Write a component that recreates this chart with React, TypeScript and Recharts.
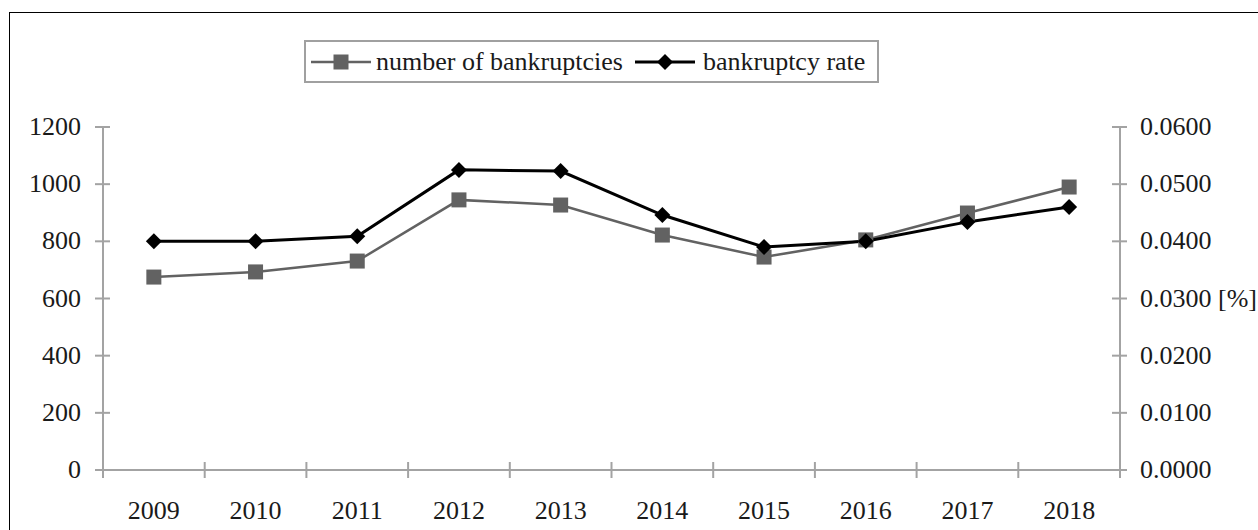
import { LineChart, Line, XAxis, YAxis } from "recharts";

const years = ["2009", "2010", "2011", "2012", "2013", "2014", "2015", "2016", "2017", "2018"];
const bankruptcies = [675, 693, 731, 945, 927, 822, 745, 805, 899, 990];
const bankruptcyRate = [0.04, 0.04, 0.0409, 0.0525, 0.0523, 0.0446, 0.039, 0.04, 0.0434, 0.046];
const leftTicks = [0, 200, 400, 600, 800, 1000, 1200];
const rightTicks = [0, 0.01, 0.02, 0.03, 0.04, 0.05, 0.06];
const seriesNames = ["number of bankruptcies", "bankruptcy rate"];

const data = years.map((year, i) => ({
  year,
  count: bankruptcies[i],
  rate: bankruptcyRate[i],
}));

const FONT = '"Liberation Serif", "Times New Roman", serif';
const AXIS = "#a3a3a3";
const GRAY = "#626262";
const BLACK = "#000000";
const TEXT = "#1a1a1a";

const W = 1248;
const H = 517;
const LEFT_W = 93;
const RIGHT_W = 138;
const BAND = (W - LEFT_W - RIGHT_W) / years.length;

const LeftTick = (props: any) => {
  const { x, y, payload } = props;
  return (
    <g>
      <line x1={x - 8} x2={x + 7} y1={y} y2={y} stroke={AXIS} strokeWidth={2} />
      <text x={x - 22} y={y + 8} textAnchor="end" fontFamily={FONT} fontSize={26} fill={TEXT}>
        {payload.value}
      </text>
    </g>
  );
};

const RightTick = (props: any) => {
  const { x, y, payload } = props;
  const label = payload.value.toFixed(4) + (payload.value === 0.03 ? " [%]" : "");
  return (
    <g>
      <line x1={x - 8} x2={x + 7} y1={y} y2={y} stroke={AXIS} strokeWidth={2} />
      <text x={x + 20} y={y + 8} textAnchor="start" fontFamily={FONT} fontSize={26} fill={TEXT}>
        {label}
      </text>
    </g>
  );
};

const BottomTick = (props: any) => {
  const { x, y, payload, index } = props;
  return (
    <g>
      {index === 0 && (
        <line x1={x - BAND / 2} x2={x - BAND / 2} y1={y} y2={y + 8} stroke={AXIS} strokeWidth={2} />
      )}
      <line x1={x + BAND / 2} x2={x + BAND / 2} y1={y - 8} y2={y + 8} stroke={AXIS} strokeWidth={2} />
      <text x={x} y={y + 49} textAnchor="middle" fontFamily={FONT} fontSize={26} fill={TEXT}>
        {payload.value}
      </text>
    </g>
  );
};

const SquareDot = (props: any) => {
  const { cx, cy, index } = props;
  return <rect key={`sq-${index}`} x={cx - 7.5} y={cy - 7.5} width={15} height={15} fill={GRAY} />;
};

const DiamondDot = (props: any) => {
  const { cx, cy, index } = props;
  return (
    <path
      key={`dm-${index}`}
      d={`M${cx},${cy - 8} L${cx + 8},${cy} L${cx},${cy + 8} L${cx - 8},${cy} Z`}
      fill={BLACK}
    />
  );
};

const LegendIcon = ({ color, shape }: { color: string; shape: "square" | "diamond" }) => (
  <svg width={60} height={20} style={{ display: "block" }}>
    <line x1={0} x2={60} y1={10} y2={10} stroke={color} strokeWidth={shape === "square" ? 2.5 : 3} />
    {shape === "square" ? (
      <rect x={22.5} y={2.5} width={15} height={15} fill={color} />
    ) : (
      <path d="M30,2 L38,10 L30,18 L22,10 Z" fill={color} />
    )}
  </svg>
);

export default function App() {
  return (
    <div
      style={{
        position: "absolute",
        left: 9,
        top: 12,
        width: 1249,
        height: 518,
        borderLeft: "1px solid #000",
        borderTop: "1px solid #000",
        background: "#fff",
      }}
    >
      <div style={{ position: "relative", width: W, height: H }}>
        <div
          style={{
            position: "absolute",
            left: 294,
            top: 27,
            width: 571,
            height: 39,
            border: "2px solid #a0a0a0",
            display: "flex",
            alignItems: "center",
            fontFamily: FONT,
            fontSize: 26,
            color: TEXT,
            whiteSpace: "nowrap",
          }}
        >
          <div style={{ marginLeft: 5 }}>
            <LegendIcon color={GRAY} shape="square" />
          </div>
          <span style={{ marginLeft: 5 }}>{seriesNames[0]}</span>
          <div style={{ marginLeft: 12 }}>
            <LegendIcon color={BLACK} shape="diamond" />
          </div>
          <span style={{ marginLeft: 8 }}>{seriesNames[1]}</span>
        </div>
        <LineChart width={W} height={H} data={data} margin={{ top: 114, right: 0, bottom: 0, left: 0 }}>
          <XAxis
            dataKey="year"
            scale="band"
            height={60}
            tick={<BottomTick />}
            tickLine={false}
            tickSize={0}
            tickMargin={0}
            axisLine={{ stroke: AXIS, strokeWidth: 2 }}
            interval={0}
          />
          <YAxis
            yAxisId="left"
            width={LEFT_W}
            domain={[0, 1200]}
            ticks={leftTicks}
            tick={<LeftTick />}
            tickLine={false}
            tickSize={0}
            tickMargin={0}
            axisLine={{ stroke: AXIS, strokeWidth: 2 }}
            interval={0}
          />
          <YAxis
            yAxisId="right"
            orientation="right"
            width={RIGHT_W}
            domain={[0, 0.06]}
            ticks={rightTicks}
            tick={<RightTick />}
            tickLine={false}
            tickSize={0}
            tickMargin={0}
            axisLine={{ stroke: AXIS, strokeWidth: 2 }}
            interval={0}
          />
          <Line
            yAxisId="left"
            type="linear"
            dataKey="count"
            name={seriesNames[0]}
            stroke={GRAY}
            strokeWidth={2.5}
            dot={<SquareDot />}
            activeDot={false}
            isAnimationActive={false}
          />
          <Line
            yAxisId="right"
            type="linear"
            dataKey="rate"
            name={seriesNames[1]}
            stroke={BLACK}
            strokeWidth={3}
            dot={<DiamondDot />}
            activeDot={false}
            isAnimationActive={false}
          />
        </LineChart>
      </div>
    </div>
  );
}
